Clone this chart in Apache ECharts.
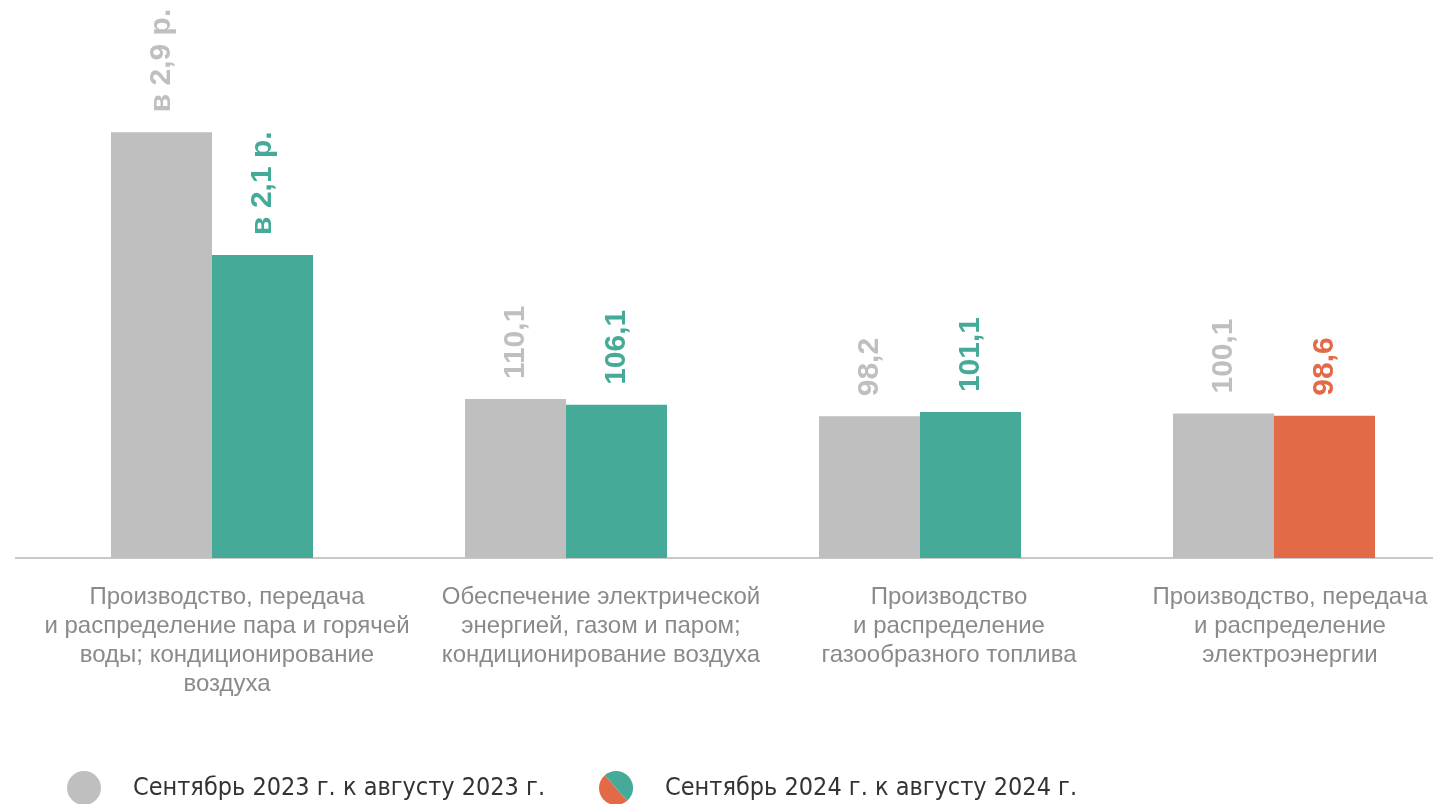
<!DOCTYPE html>
<html><head><meta charset="utf-8">
<script src="https://cdn.jsdelivr.net/npm/echarts@6/dist/echarts.min.js"></script>
<style>html,body{margin:0;padding:0;background:#fff}#c{width:1453px;height:804px}</style>
</head><body><div id="c"></div>
<script>
const categories = [
  'Производство, передача\nи распределение пара и горячей\nводы; кондиционирование\nвоздуха',
  'Обеспечение электрической\nэнергией, газом и паром;\nкондиционирование воздуха',
  'Производство\nи распределение\nгазообразного топлива',
  'Производство, передача\nи распределение\nэлектроэнергии'
];
const seriesNames = ['Сентябрь 2023 г. к августу 2023 г.', 'Сентябрь 2024 г. к августу 2024 г.'];
const values2023 = [295, 110.1, 98.2, 100.1];
const values2024 = [210, 106.1, 101.1, 98.6];
const labels2023 = ['в 2,9 р.', '110,1', '98,2', '100,1'];
const labels2024 = ['в 2,1 р.', '106,1', '101,1', '98,6'];
// horizontal shift of each category caption (layout only)
const captionShift = [15, 35, 29, 16];

const GRAY = '#bfbfbf', GREEN = '#45aa98', RED = '#e36a47';
const splitSvg = '<svg xmlns="http://www.w3.org/2000/svg" width="34" height="34" viewBox="0 0 34 34">' +
  '<path d="M5.8,4.2 A17,17 0 0,0 28.2,29.8 Z" fill="' + RED + '"/>' +
  '<path d="M5.8,4.2 A17,17 0 0,1 28.2,29.8 Z" fill="' + GREEN + '"/></svg>';
const splitIcon = 'image://data:image/svg+xml;charset=utf-8,' + encodeURIComponent(splitSvg);

const chart = echarts.init(document.getElementById('c'));
const lab = (txt, color) => ({
  show: true, position: 'top', rotate: 90, align: 'left', verticalAlign: 'middle',
  distance: 20, formatter: txt, color: color, fontSize: 30, fontWeight: 'bold',
  fontFamily: 'Liberation Sans, Arial, sans-serif'
});
chart.setOption({
  animation: false,
  grid: { left: 35, right: 2, top: 125, bottom: 246, containLabel: false },
  xAxis: {
    type: 'category',
    data: categories.map((c, i) => ({ value: c, textStyle: { padding: [0, 0, 0, captionShift[i] * 2] } })),
    axisLine: { show: false },
    axisTick: { show: false },
    axisLabel: { interval: 0, fontSize: 24, lineHeight: 29, color: '#8a8a8a', margin: 25,
      fontFamily: 'Liberation Sans, Arial, sans-serif', align: 'center' }
  },
  yAxis: { type: 'value', min: 0, max: 300, show: false, splitLine: { show: false } },
  legend: {
    left: 62, top: 766, itemWidth: 34, itemHeight: 34, itemGap: 54,
    textStyle: { fontSize: 25, color: '#333', fontFamily: 'DejaVu Sans Condensed, sans-serif', padding: [0,0,0,27] },
    data: [
      { name: seriesNames[0], icon: 'circle', itemStyle: { color: GRAY } },
      { name: seriesNames[1], icon: splitIcon }
    ]
  },
  series: [
    { name: seriesNames[0], type: 'bar', barWidth: 101, barGap: '0%',
      itemStyle: { color: GRAY },
      data: values2023.map((v, i) => ({ value: v, label: lab(labels2023[i], GRAY) })) },
    { name: seriesNames[1], type: 'bar', barWidth: 101,
      itemStyle: { color: GREEN },
      data: values2024.map((v, i) => {
        const c = v < 100 ? RED : GREEN;
        return { value: v, itemStyle: { color: c }, label: lab(labels2024[i], c) };
      }) }
  ]
});
const y0 = chart.convertToPixel({ yAxisIndex: 0 }, 0);
chart.setOption({ graphic: [{ type: 'line', z: 0, shape: { x1: 15, y1: y0, x2: 1433, y2: y0 },
  style: { stroke: '#c8c8c8', lineWidth: 2 } }] });
</script></body></html>
